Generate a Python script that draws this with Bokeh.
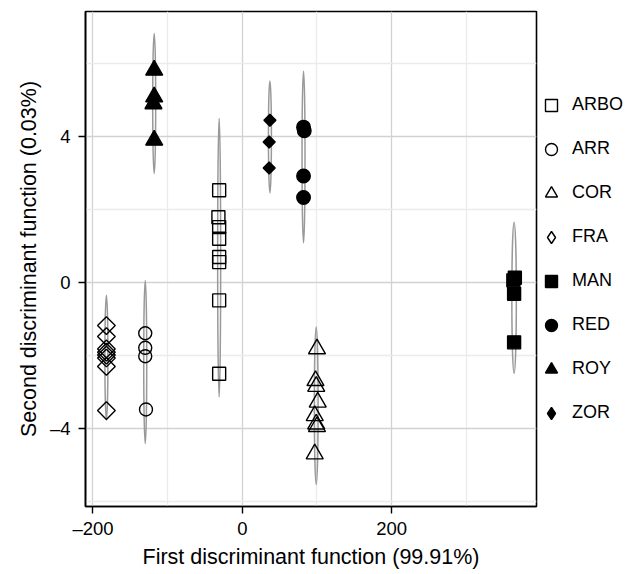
import numpy as np
from bokeh.plotting import figure
from bokeh.models import Range1d, FixedTicker, Legend, LegendItem, Title
from bokeh.embed import file_html
from bokeh.resources import INLINE

# ---------------- data ----------------
groups = ["ARBO", "ARR", "COR", "FRA", "MAN", "RED", "ROY", "ZOR"]

arbo_x = [-31, -32, -31, -31, -31, -31, -31, -31]
arbo_y = [2.52, 1.78, 1.51, 1.19, 0.69, 0.55, -0.50, -2.51]

arr_x = [-130, -130, -130, -129]
arr_y = [-1.40, -1.80, -2.03, -3.49]

cor_x = [100, 98, 99, 101, 97, 99, 100, 97]
cor_y = [-1.83, -2.70, -2.86, -3.29, -3.66, -3.89, -3.96, -4.71]

fra_x = [-182, -182, -182, -182, -182, -182, -182, -182]
fra_y = [-1.19, -1.49, -1.83, -1.92, -2.00, -2.08, -2.31, -3.52]

man_x = [365, 363, 364, 364]
man_y = [0.12, 0.05, -0.32, -1.65]

red_x = [82, 83, 82, 82]
red_y = [4.25, 4.15, 2.91, 2.32]

roy_x = [-118, -118, -119, -118]
roy_y = [5.81, 5.08, 4.89, 3.89]

zor_x = [37, 36, 36]
zor_y = [4.44, 3.84, 3.13]

# confidence ellipses (centre x, centre y, height in y units, width in x units)
ell_x = [-31, -130, 99, -182, 364, 82, -118, 37]
ell_y = [0.67, -2.19, -3.39, -2.07, -0.43, 3.43, 4.90, 3.98]
ell_h = [7.64, 4.47, 4.32, 3.42, 4.16, 4.71, 3.84, 3.07]
ell_w = [4, 4, 5, 4, 6, 4, 4, 4]

x_ticks = [-200, 0, 200]
x_minor = [-100, 100, 300]
y_ticks = [-4, 0, 4]
y_minor = [-6, -2, 2, 6]
x_labels = {-200: "\u2013200", 0: "0", 200: "200"}
y_labels = {-4: "\u20134", 0: "0", 4: "4"}

x_title = "First discriminant function (99.91%)"
y_title = "Second discriminant function (0.03%)"

# ---------------- figure ----------------
FONT = "Liberation Sans"

p = figure(frame_width=451, frame_height=495, output_backend="svg",
           toolbar_location=None,
           x_range=Range1d(-210, 394), y_range=Range1d(-6.15, 7.42),
           min_border_left=85, min_border_right=90, min_border_top=11,
           min_border_bottom=56)

p.background_fill_color = "white"
p.outline_line_color = "black"
p.outline_line_width = 1.6

for ax, ticks, minor, labels in ((p.xaxis[0], x_ticks, x_minor, x_labels),
                                 (p.yaxis[0], y_ticks, y_minor, y_labels)):
    ax.ticker = FixedTicker(ticks=ticks, minor_ticks=minor)
    ax.major_label_overrides = labels
    ax.axis_line_color = "black"
    ax.axis_line_width = 1.6
    ax.major_tick_line_color = "black"
    ax.major_tick_line_width = 1.4
    ax.major_tick_out = 7
    ax.major_tick_in = 0
    ax.minor_tick_line_color = None
    ax.major_label_text_font = FONT
    ax.major_label_text_font_size = "18.5px"
    ax.major_label_text_color = "black"
    ax.axis_label_text_font = FONT
    ax.axis_label_text_font_size = "21.5px"
    ax.axis_label_text_font_style = "normal"
    ax.axis_label_text_color = "black"

p.xaxis.major_label_standoff = 4
p.yaxis.major_label_standoff = 8
p.xaxis.axis_label_standoff = 3
p.xaxis.axis_label = x_title

# y-axis title as a side title so it can sit slightly below the frame centre
tkw = dict(text=y_title, align="center", offset=15,
           text_font=FONT, text_font_size="21.5px",
           text_font_style="normal", text_color="black")
if "standoff" in Title.properties():
    tkw["standoff"] = 12
p.add_layout(Title(**tkw), "left")

for g in (p.xgrid[0], p.ygrid[0]):
    g.grid_line_color = "#d2d2d2"
    g.grid_line_width = 1.3
    g.minor_grid_line_color = "#ebebeb"
    g.minor_grid_line_width = 1.3
p.xgrid[0].ticker = FixedTicker(ticks=x_ticks, minor_ticks=x_minor)
p.ygrid[0].ticker = FixedTicker(ticks=y_ticks, minor_ticks=y_minor)

# ellipses
p.ellipse(x=ell_x, y=ell_y, width=ell_w, height=ell_h,
          fill_color=None, line_color="#999999", line_width=1.5)

# points: (x, y, marker, size, fill, angle, legend marker)
specs = {
    "ARBO": (arbo_x, arbo_y, "square", 13, None, 0.0, None),
    "ARR": (arr_x, arr_y, "circle", 13, None, 0.0, None),
    "COR": (cor_x, cor_y, "triangle", 17, None, 0.0, None),
    "FRA": (fra_x, fra_y, "square", 12.5, None, np.pi / 4, "diamond"),
    "MAN": (man_x, man_y, "square", 13, "black", 0.0, None),
    "RED": (red_x, red_y, "circle", 13.5, "black", 0.0, None),
    "ROY": (roy_x, roy_y, "triangle", 17, "black", 0.0, None),
    "ZOR": (zor_x, zor_y, "square", 8.5, "black", np.pi / 4, "diamond"),
}

items = []
for g in groups:
    xs, ys, marker, size, fill, ang, leg_marker = specs[g]
    r = p.scatter(x=xs, y=ys, marker=marker, size=size, angle=ang,
                  fill_color=fill, line_color="black", line_width=1.4)
    if leg_marker is None:
        items.append(LegendItem(label=g, renderers=[r]))
    else:
        # legend-only renderer (a single undrawn NaN point) so the key shows a diamond
        lr = p.scatter(x=np.array([np.nan]), y=np.array([np.nan]),
                       marker=leg_marker, size=size,
                       fill_color=fill, line_color="black", line_width=1.4)
        items.append(LegendItem(label=g, renderers=[lr], index=0))

legend = Legend(items=items, location="center_left",
                glyph_width=30, glyph_height=30, label_height=30,
                spacing=14, padding=6, margin=0, label_standoff=6,
                label_text_font=FONT, label_text_font_size="18px",
                label_text_color="black",
                border_line_color=None, background_fill_color=None)
p.add_layout(legend, "right")

open("out.html", "w").write(file_html(p, INLINE))
